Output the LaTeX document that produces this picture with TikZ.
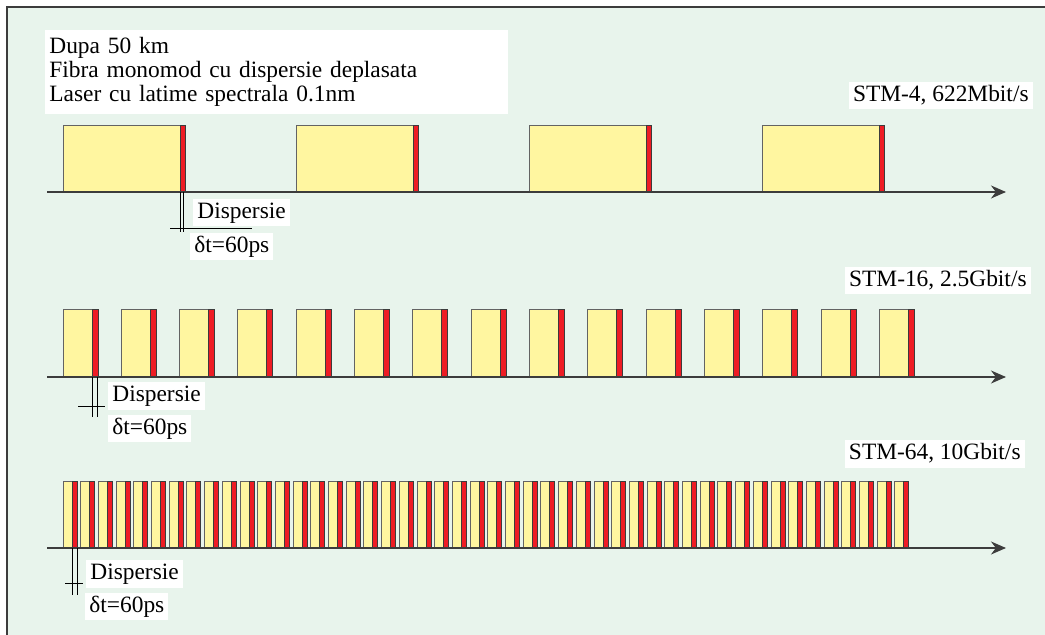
\documentclass[tikz,border=0pt]{standalone}
\usepackage{fontspec}
\setmainfont{Liberation Serif}
\usetikzlibrary{arrows.meta}
\definecolor{fond}{HTML}{E8F4EC}
\definecolor{galben}{HTML}{FFF6A0}
\definecolor{rosu}{HTML}{EE1C24}
\definecolor{gri}{HTML}{3C3C3C}

\begin{document}
\begin{tikzpicture}[x=0.5pt,y=-0.5pt,line join=miter,
    impuls/.style={draw=gri!80,line width=0.5pt,fill=galben},
    front/.style={draw=gri,line width=0.5pt,fill=rosu},
    axa/.style={draw=gri,line width=0.6pt,-{Stealth[length=7.5pt,width=6.5pt]}},
    reper/.style={draw=black,line width=0.45pt},
    eticheta/.style={fill=white,inner xsep=2pt,inner ysep=1.5pt,text height=8.2pt,text depth=2.6pt,font=\fontsize{11.7}{13}\selectfont}]
   \useasboundingbox (0,0) rectangle (1045,635);
   \draw[draw=gri,line width=1pt,fill=fond] (7,7) rectangle (1060,650);

   \node[fill=white,anchor=north west,inner xsep=2pt,inner ysep=3.5pt,text width=227.5pt,align=left,
         font=\fontsize{11.7}{12}\selectfont] (titlu) at (45,30)
         {Dupa 50 km\\Fibra monomod cu dispersie deplasata\\Laser cu latime spectrala 0.1nm};

   % STM-4
   \foreach \i in {0,...,3} {
      \draw[impuls] ({63+233.3*\i},126) rectangle +(117,66);
      \draw[front] ({180+233.3*\i},126) rectangle +(5,66);
   }
   \coordinate (a1) at (47,192);
   \coordinate (b1) at (1006,192);
   \draw[axa] (a1) -- (b1);
   \node[eticheta,anchor=east] (stm4) at (1033,95.5) {STM-4, 622Mbit/s};
   \node[eticheta,anchor=west] (d1) at (193,212.5) {Dispersie};
   \node[eticheta,anchor=west] (t1) at (190,246.5) {δt=60ps};
   \draw[reper] (180,192) -- (180,232);
   \draw[reper] (183,192) -- (183,232);
   \draw[reper] (170,228) -- (252,228);

   % STM-16
   \foreach \i in {0,...,14} {
      \draw[impuls] ({63+58.33*\i},310) rectangle +(29,67);
      \draw[front] ({92+58.33*\i},310) rectangle +(6,67);
   }
   \coordinate (a2) at (47,377);
   \coordinate (b2) at (1006,377);
   \draw[axa] (a2) -- (b2);
   \node[eticheta,anchor=east] (stm16) at (1031,280.5) {STM-16, 2.5Gbit/s};
   \node[eticheta,anchor=west] (d2) at (108,396) {Dispersie};
   \node[eticheta,anchor=west] (t2) at (108,428.5) {δt=60ps};
   \draw[reper] (92,377) -- (92,417);
   \draw[reper] (97,377) -- (97,417);
   \draw[reper] (78,406) -- (105,406);

   % STM-64
   \foreach \i in {0,...,47} {
      \draw[impuls] ({63+17.7*\i},482) rectangle +(9,66);
      \draw[front] ({72+17.7*\i},482) rectangle +(5,66);
   }
   \coordinate (a3) at (47,548);
   \coordinate (b3) at (1006,548);
   \draw[axa] (a3) -- (b3);
   \node[eticheta,anchor=east] (stm64) at (1025,454) {STM-64, 10Gbit/s};
   \node[eticheta,anchor=west] (d3) at (86,574) {Dispersie};
   \node[eticheta,anchor=west] (t3) at (85,606.5) {δt=60ps};
   \draw[reper] (72,548) -- (72,595);
   \draw[reper] (77,548) -- (77,595);
   \draw[reper] (65,583) -- (83,583);
\end{tikzpicture}
\end{document}
